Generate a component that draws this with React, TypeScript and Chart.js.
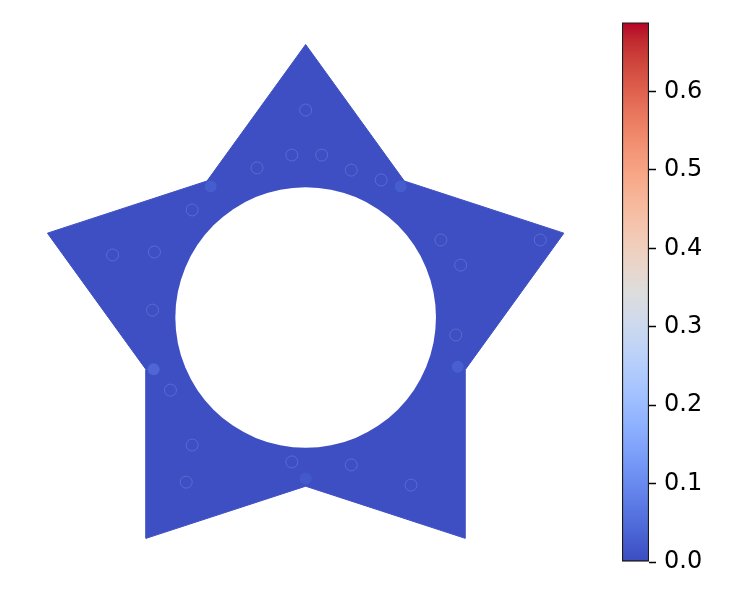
import React, { useEffect, useRef } from "react";
import { Chart, registerables } from "chart.js";
Chart.register(...registerables);

// Star-shaped domain (outer radius 1, inner radius 0.618), closed polygon
const STAR_X = [0, -0.3633, -0.9511, -0.5878, -0.5878, 0, 0.5878, 0.5878, 0.9511, 0.3633, 0];
const STAR_Y = [1, 0.5, 0.309, -0.191, -0.809, -0.618, -0.809, -0.191, 0.309, 0.5, 1];
// Circular hole
const HOLE_X = [0];
const HOLE_Y = [0];
const HOLE_R = 0.48;
// Slightly raised values near the inner corners
const GLOW_X = [-0.56, 0.56, -0.35, 0.35, 0];
const GLOW_Y = [-0.19, -0.18, 0.48, 0.48, -0.59];
const GLOW_V = [0.12, 0.08, 0.07, 0.07, 0.05];
// Faint ring-like artefacts in the field
const RING_X = [-0.557, -0.711, -0.418, -0.179, -0.051, 0.059, 0.168, 0.278, 0.498, 0.571, 0.553, 0.168, -0.051, -0.418, -0.498, -0.44, 0, 0.388, 0.864, -0.564];
const RING_Y = [0.24, 0.229, 0.394, 0.548, 0.595, 0.595, 0.54, 0.504, 0.284, 0.192, -0.064, -0.54, -0.529, -0.467, -0.266, -0.603, 0.76, -0.614, 0.284, 0.027];
// Colour bar
const VMIN = 0;
const VMAX = 0.688;
const CB_TICKS = [0, 0.1, 0.2, 0.3, 0.4, 0.5, 0.6];

const COOLWARM: number[][] = [
  [59, 76, 192], [68, 90, 204], [77, 104, 215], [87, 117, 225], [98, 130, 234], [108, 142, 241],
  [119, 154, 247], [130, 165, 251], [141, 176, 254], [152, 185, 255], [163, 194, 255], [174, 201, 253],
  [184, 208, 249], [194, 213, 244], [204, 217, 238], [213, 219, 230], [221, 221, 221], [229, 216, 209],
  [236, 211, 197], [241, 204, 184], [245, 196, 172], [247, 187, 159], [247, 177, 147], [247, 166, 134],
  [244, 154, 123], [241, 141, 111], [236, 127, 99], [229, 112, 89], [222, 96, 77], [213, 80, 67],
  [203, 62, 56], [192, 40, 47], [180, 4, 38],
];

function cmap(v: number, a = 1): string {
  const t = Math.max(0, Math.min(1, (v - VMIN) / (VMAX - VMIN))) * (COOLWARM.length - 1);
  const i = Math.min(COOLWARM.length - 2, Math.floor(t));
  const f = t - i;
  const c = COOLWARM[i].map((x, k) => Math.round(x + (COOLWARM[i + 1][k] - x) * f));
  return `rgba(${c[0]},${c[1]},${c[2]},${a})`;
}

const BASE = "rgb(61,79,195)";

export default function App() {
  const mainRef = useRef<HTMLCanvasElement>(null);
  const cbRef = useRef<HTMLCanvasElement>(null);

  useEffect(() => {
    const star = STAR_X.map((x, i) => ({ x, y: STAR_Y[i] }));
    const hole = HOLE_X.map((x, i) => ({ x, y: HOLE_Y[i] }));
    const glow = GLOW_X.map((x, i) => ({ x, y: GLOW_Y[i] }));
    const rings = RING_X.map((x, i) => ({ x, y: RING_Y[i] }));

    const main = new Chart(mainRef.current!, {
      type: "scatter",
      data: {
        datasets: [
          {
            data: star,
            showLine: true,
            fill: "shape",
            backgroundColor: BASE,
            borderColor: BASE,
            borderWidth: 1,
            pointRadius: 0,
            order: 4,
          } as any,
          {
            data: glow,
            pointRadius: 6,
            pointBorderWidth: 0,
            backgroundColor: GLOW_V.map((v) => cmap(v, 0.35)),
            order: 3,
          },
          {
            data: rings,
            pointRadius: 6,
            pointBorderWidth: 1,
            backgroundColor: "rgba(0,0,0,0)",
            borderColor: "rgba(150,170,240,0.3)",
            order: 2,
          } as any,
          {
            data: hole,
            pointRadius: (ctx: any) => {
              const sx = ctx.chart.scales.x;
              if (!sx) return 0;
              const r = sx.getPixelForValue(HOLE_R) - sx.getPixelForValue(0);
              return isFinite(r) ? r : 0;
            },
            pointBorderWidth: 0,
            backgroundColor: "#ffffff",
            order: 1,
          } as any,
        ],
      },
      options: {
        animation: false,
        responsive: false,
        devicePixelRatio: 1,
        layout: { padding: { left: 3.7, right: 145.7, top: 30.85, bottom: 9.5 } },
        plugins: { legend: { display: false }, tooltip: { enabled: false } },
        scales: {
          x: { type: "linear", min: -1.1, max: 1.1, display: false },
          y: { type: "linear", min: -1.0, max: 1.05, display: false },
        },
      },
    });

    const cb = new Chart(cbRef.current!, {
      type: "bar",
      data: {
        labels: [""],
        datasets: [
          {
            data: [VMAX],
            base: VMIN,
            categoryPercentage: 1,
            barPercentage: 1,
            borderColor: "#1a1a1a",
            borderWidth: 1.5,
            borderSkipped: false,
            backgroundColor: (ctx: any) => {
              const chart = ctx.chart;
              const ys = chart.scales.y;
              if (!ys || !chart.chartArea) return cmap(0);
              const y0 = ys.getPixelForValue(VMIN);
              const y1 = ys.getPixelForValue(VMAX);
              if (!isFinite(y0) || !isFinite(y1) || y0 === y1) return cmap(0);
              const g = chart.ctx.createLinearGradient(0, y0, 0, y1);
              COOLWARM.forEach((c, i) => g.addColorStop(i / (COOLWARM.length - 1), `rgb(${c[0]},${c[1]},${c[2]})`));
              return g;
            },
          } as any,
        ],
      },
      options: {
        animation: false,
        responsive: false,
        devicePixelRatio: 1,
        layout: { padding: { left: 62, right: 0, top: 22, bottom: 38 } },
        plugins: { legend: { display: false }, tooltip: { enabled: false } },
        scales: {
          x: { display: false },
          y: {
            position: "right",
            min: VMIN,
            max: VMAX,
            afterFit: (scale: any) => {
              scale.width = 101;
            },
            afterBuildTicks: (scale: any) => {
              scale.ticks = CB_TICKS.map((v) => ({ value: v }));
            },
            ticks: {
              includeBounds: false,
              padding: 8,
              color: "#000",
              font: { family: "'DejaVu Sans'", size: 24 },
              callback: (v: any) => Number(v).toFixed(1),
            },
            grid: {
              drawOnChartArea: false,
              drawTicks: true,
              tickLength: 7,
              tickColor: "#000",
              tickWidth: 1.5,
            },
            border: { display: false },
          },
        },
      },
    });

    return () => {
      main.destroy();
      cb.destroy();
    };
  }, []);

  return (
    <div style={{ position: "fixed", left: 0, top: 0, width: 750, height: 600, background: "#fff" }}>
      <canvas ref={mainRef} width={750} height={600} style={{ position: "absolute", left: 0, top: 0, width: 750, height: 600 }} />
      <canvas ref={cbRef} width={190} height={600} style={{ position: "absolute", left: 560, top: 0, width: 190, height: 600 }} />
    </div>
  );
}
